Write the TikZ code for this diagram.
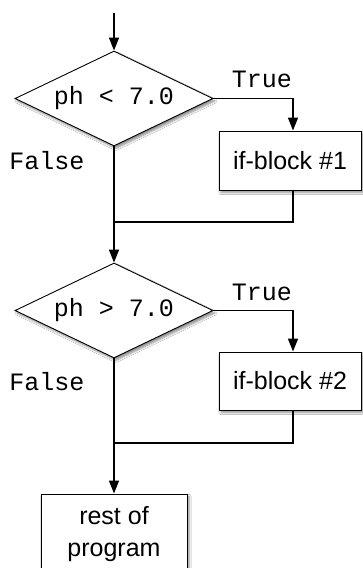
\documentclass[tikz,border=0pt]{standalone}
\usepackage{fontspec}
\setmainfont{Liberation Sans}
\newfontfamily\codefont{Liberation Mono}
\usetikzlibrary{shapes.geometric,arrows.meta,shadows.blur}
\begin{document}
\begin{tikzpicture}[x=1pt,y=-1pt,
  myshadow/.style={blur shadow={shadow xshift=2pt,shadow yshift=-2.5pt,shadow blur steps=6,shadow opacity=45}},
  decision/.style={diamond,aspect=2.084,draw=black,line width=0.9pt,fill=white,inner sep=0pt,
    minimum width=198pt,minimum height=95pt,font=\codefont\fontsize{25}{30}\selectfont,myshadow},
  block/.style={rectangle,draw=black,line width=1pt,fill=white,inner sep=0pt,
    font=\fontsize{25}{32}\selectfont,align=center,myshadow},
  lbl/.style={font=\codefont\fontsize{25}{30}\selectfont,inner sep=0pt},
  conn/.style={line width=1.7pt,draw=black},
  arr/.style={conn,-{Triangle[length=13pt,width=10pt]}}
]
\clip (0,0) rectangle (363,568);
\fill[white] (0,0) rectangle (363,568);

\coordinate (start) at (114,13);
\node[decision] (d1) at (114,98.5) {ph < 7.0};
\node[block,minimum width=142pt,minimum height=59pt] (b1) at (290,160.5) {if-block \#1};
\coordinate (j1) at (114,222);
\node[decision] (d2) at (114,310.5) {ph > 7.0};
\node[block,minimum width=142pt,minimum height=58pt] (b2) at (290,381) {if-block \#2};
\coordinate (j2) at (114,443);
\node[block,minimum width=146pt,minimum height=80pt] (b3) at (114,534) {rest of\\program};

\node[lbl] (t1) at (262,79) {True};
\node[lbl] (f1) at (47,161) {False};
\node[lbl] (t2) at (262,292) {True};
\node[lbl] (f2) at (47,382) {False};

\draw[arr] (start) -- (d1.north);
\draw[arr] (d1.east) -| ([xshift=3pt]b1.north);
\draw[conn] ([xshift=3pt]b1.south) |- (j1);
\draw[arr] (d1.south) -- (d2.north);
\draw[arr] (d2.east) -| ([xshift=3pt]b2.north);
\draw[conn] ([xshift=3pt]b2.south) |- (j2);
\draw[arr] (d2.south) -- (b3.north);
\end{tikzpicture}
\end{document}
